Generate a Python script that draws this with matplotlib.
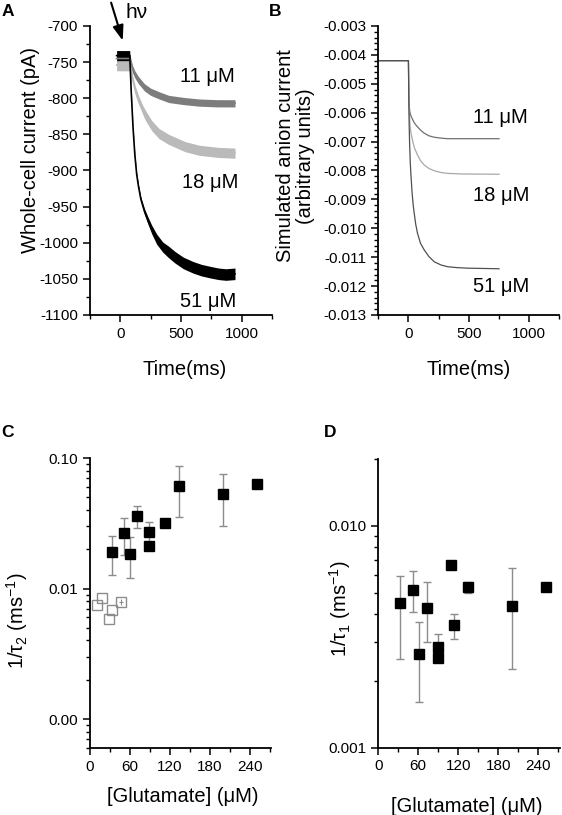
import numpy as np
import matplotlib
matplotlib.use('Agg')
import matplotlib.pyplot as plt
from matplotlib.ticker import (MultipleLocator, FixedLocator, LogLocator, NullFormatter,
                               FixedFormatter, FormatStrFormatter)

plt.rcParams['font.family'] = ['Liberation Sans', 'DejaVu Sans']
plt.rcParams['mathtext.fontset'] = 'custom'
plt.rcParams['mathtext.rm'] = 'Liberation Sans'
plt.rcParams['mathtext.it'] = 'Liberation Sans:italic'
plt.rcParams['axes.unicode_minus'] = False

# ---- panel A: recorded whole-cell currents (pA) ----
t_11 = [-30, 78, 90, 100, 120, 150, 200, 250, 320, 400, 530, 650, 800, 945]
i_11 = [-745, -745, -752, -759, -767, -775, -785, -791, -796, -801, -804, -806, -807, -807]
hw_11 = [6, 6, 5, 5, 5, 5, 5, 5, 5, 5, 5, 5, 5, 5]

t_18 = [-30, 78, 90, 100, 125, 150, 180, 205, 260, 320, 400, 534, 650, 808, 945]
i_18 = [-754, -754, -760, -772, -790, -802, -814, -823, -838, -849, -857, -867, -872, -875, -876]
hw_18 = [8, 8, 5, 5, 6, 6, 6, 7, 7, 7, 7, 7, 7, 7, 7]

t_51 = [-30, 78, 90, 105, 120, 135, 150, 170, 200, 230, 260, 300, 350, 400, 450, 520,
        600, 670, 750, 810, 870, 945]
i_51 = [-741, -741, -790, -840, -878, -905, -922, -940, -957, -970, -982, -995, -1006,
        -1013, -1020, -1028, -1034, -1038, -1041, -1043, -1044, -1043]
hw_51 = [7, 7, 1.5, 1.5, 1.5, 2, 2.5, 3, 4, 5, 6, 7, 7, 8, 8, 8, 8, 8, 8, 8, 8, 8]

# ---- panel B: simulated anion current ----
tB_11 = [-250, 0, 2, 4, 6, 10, 15, 22, 33, 50, 75, 100, 131, 170, 214, 270, 325, 500, 750]
sB_11 = [-0.0042, -0.0042, -0.0048, -0.0054, -0.0057, -0.00592, -0.00603, -0.00612,
         -0.00622, -0.00636, -0.00649, -0.00660, -0.00671, -0.00680, -0.00685, -0.00688,
         -0.0069, -0.0069, -0.0069]
tB_18 = [-250, 0, 2, 4, 6, 10, 14, 22, 33, 50, 75, 100, 131, 170, 214, 270, 325, 436, 750]
sB_18 = [-0.0042, -0.0042, -0.0049, -0.0055, -0.0059, -0.0062, -0.00648, -0.00672,
         -0.00694, -0.00722, -0.00746, -0.00766, -0.00781, -0.00793, -0.00801, -0.00807,
         -0.0081, -0.00812, -0.00813]
tB_51 = [-250, 0, 3, 6, 10, 15, 20, 30, 40, 48, 60, 75, 100, 131, 170, 214, 270, 325,
         400, 492, 750]
sB_51 = [-0.0042, -0.0042, -0.0055, -0.0064, -0.0071, -0.0077, -0.0081, -0.00875,
         -0.00922, -0.00948, -0.00985, -0.01017, -0.01052, -0.01075, -0.01098, -0.01116,
         -0.01127, -0.01133, -0.01136, -0.01138, -0.0114]

# ---- panel C: 1/tau2 vs glutamate ----
glu_c = [32.5, 51.5, 60, 71, 89, 89, 112, 134, 199, 251]
rate_c = [0.0191, 0.0265, 0.0185, 0.0361, 0.0272, 0.0210, 0.0316, 0.0607, 0.0530, 0.0628]
up_c = [0.0254, 0.0349, 0.0248, 0.0431, 0.0325, 0.0210, 0.0316, 0.0863, 0.0758, 0.0628]
lo_c = [0.0126, 0.0181, 0.0120, 0.0292, 0.0228, 0.0210, 0.0316, 0.0351, 0.0303, 0.0628]

glu_open = [11, 18.5, 28, 32.5, 47]
rate_open = [0.00743, 0.00841, 0.00584, 0.00684, 0.00789]
xerr_open = [0, 0, 0, 0, 3]
yerr_open = [0, 0, 0, 0, 0.0004]

# ---- panel D: 1/tau1 vs glutamate ----
glu_d = [32.5, 51.5, 60.5, 72.5, 89.5, 89.5, 113, 108.5, 135, 200, 251.5]
rate_d = [0.00450, 0.00513, 0.00264, 0.00428, 0.00285, 0.00254, 0.00357, 0.00667,
          0.00531, 0.00434, 0.00528]
up_d = [0.00596, 0.00625, 0.00367, 0.00557, 0.00325, 0.00254, 0.00402, 0.00667,
        0.00560, 0.00643, 0.00528]
lo_d = [0.00250, 0.00407, 0.00161, 0.00300, 0.00262, 0.00254, 0.00310, 0.00667,
        0.00500, 0.00226, 0.00528]

LABEL_FS = 14.5
TICK_FS = 11
ERR_COLOR = '#8c8c8c'


def style_axes(ax):
    for side in ('top', 'right'):
        ax.spines[side].set_visible(False)
    for side in ('left', 'bottom'):
        ax.spines[side].set_linewidth(1.3)
    ax.tick_params(which='major', direction='out', length=5, width=1.1, labelsize=TICK_FS)
    ax.tick_params(which='minor', direction='out', length=3, width=1.0)


fig = plt.figure(figsize=(5.62, 8.15), dpi=100)
axA = fig.add_axes([0.160, 0.6135, 0.324, 0.3546])
axB = fig.add_axes([0.673, 0.6135, 0.3224, 0.3546])
axC = fig.add_axes([0.160, 0.0822, 0.3226, 0.3558])
axD = fig.add_axes([0.673, 0.0826, 0.3226, 0.3542])

# A
for t, i, hw, col in ((t_11, i_11, hw_11, '#7d7d7d'),
                      (t_18, i_18, hw_18, '#bababa'),
                      (t_51, i_51, hw_51, 'black')):
    t = np.array(t); i = np.array(i); hw = np.array(hw)
    axA.fill_between(t, i - hw, i + hw, color=col, lw=0)
    axA.plot(t, i, color=col, lw=1.2)
axA.set_xlim(-250, 1250)
axA.set_ylim(-1100, -700)
axA.xaxis.set_major_locator(FixedLocator([0, 500, 1000]))
axA.xaxis.set_minor_locator(MultipleLocator(250))
axA.yaxis.set_major_locator(MultipleLocator(50))
axA.yaxis.set_minor_locator(MultipleLocator(25))
style_axes(axA)
axA.set_xlabel('Time(ms)', fontsize=LABEL_FS)
axA.set_ylabel('Whole-cell current (pA)', fontsize=LABEL_FS)
axA.xaxis.set_label_coords(0.52, -0.155)
axA.yaxis.set_label_coords(-0.275, 0.57)
axA.text(716, -770, '11 μM', fontsize=LABEL_FS, ha='center', va='center')
axA.text(740, -916, '18 μM', fontsize=LABEL_FS, ha='center', va='center')
axA.text(725, -1082, '51 μM', fontsize=LABEL_FS, ha='center', va='center')
axA.annotate('', xy=(27, -724), xytext=(-82, -664), annotation_clip=False,
             arrowprops=dict(arrowstyle='-|>,head_length=0.9,head_width=0.32',
                             color='black', lw=1.5))
axA.text(137, -682, 'hν', fontsize=15, ha='center', va='center', clip_on=False)

# B
for t, s, col in ((tB_11, sB_11, '#707070'),
                  (tB_18, sB_18, '#a8a8a8'),
                  (tB_51, sB_51, '#505050')):
    axB.plot(t, s, color=col, lw=0.9)
axB.set_xlim(-250, 1250)
axB.set_ylim(-0.013, -0.003)
axB.xaxis.set_major_locator(FixedLocator([0, 500, 1000]))
axB.xaxis.set_minor_locator(MultipleLocator(250))
axB.yaxis.set_major_locator(MultipleLocator(0.001))
axB.yaxis.set_minor_locator(MultipleLocator(0.0002))
axB.yaxis.set_major_formatter(FormatStrFormatter('%.3f'))
style_axes(axB)
axB.set_xlabel('Time(ms)', fontsize=LABEL_FS)
axB.set_ylabel('Simulated anion current\n(arbitrary units)', fontsize=LABEL_FS,
               linespacing=1.05)
axB.xaxis.set_label_coords(0.50, -0.155)
axB.yaxis.set_label_coords(-0.35, 0.55)
axB.text(760, -0.00618, '11 μM', fontsize=LABEL_FS, ha='center', va='center')
axB.text(764, -0.00885, '18 μM', fontsize=LABEL_FS, ha='center', va='center')
axB.text(764, -0.0120, '51 μM', fontsize=LABEL_FS, ha='center', va='center')

# C
rate_c_arr = np.array(rate_c)
yerr_c = [rate_c_arr - np.array(lo_c), np.array(up_c) - rate_c_arr]
axC.errorbar(glu_c, rate_c, yerr=yerr_c, fmt='none', ecolor=ERR_COLOR, elinewidth=1,
             capsize=3, capthick=1, zorder=2)
axC.plot(glu_c, rate_c, 's', color='black', ms=6.5, zorder=3)
axC.errorbar(glu_open, rate_open, xerr=xerr_open, yerr=yerr_open, fmt='none',
             ecolor=ERR_COLOR, elinewidth=0.8, capsize=0, zorder=2)
axC.plot(glu_open, rate_open, 's', mfc='none', mec='#8c8c8c', mew=1.0, ms=6.5, zorder=3)
axC.set_yscale('log')
axC.set_xlim(0, 272)
axC.set_ylim(0.0006, 0.1)
axC.yaxis.set_major_locator(FixedLocator([0.001, 0.01, 0.1]))
axC.yaxis.set_major_formatter(FixedFormatter(['0.00', '0.01', '0.10']))
axC.yaxis.set_minor_locator(LogLocator(base=10, subs=np.arange(2, 10)))
axC.yaxis.set_minor_formatter(NullFormatter())
axC.xaxis.set_major_locator(MultipleLocator(60))
axC.xaxis.set_minor_locator(MultipleLocator(30))
style_axes(axC)
axC.set_xlabel('[Glutamate] (μM)', fontsize=LABEL_FS)
axC.set_ylabel('1/τ$_2$ (ms$^{-1}$)', fontsize=LABEL_FS)
axC.xaxis.set_label_coords(0.51, -0.135)
axC.yaxis.set_label_coords(-0.33, 0.44)

# D
rate_d_arr = np.array(rate_d)
yerr_d = [rate_d_arr - np.array(lo_d), np.array(up_d) - rate_d_arr]
axD.errorbar(glu_d, rate_d, yerr=yerr_d, fmt='none', ecolor=ERR_COLOR, elinewidth=1,
             capsize=3, capthick=1, zorder=2)
axD.plot(glu_d, rate_d, 's', color='black', ms=6.5, zorder=3)
axD.set_yscale('log')
axD.set_xlim(0, 272)
axD.set_ylim(0.001, 0.02)
axD.yaxis.set_major_locator(FixedLocator([0.001, 0.01]))
axD.yaxis.set_major_formatter(FixedFormatter(['0.001', '0.010']))
axD.yaxis.set_minor_locator(LogLocator(base=10, subs=np.arange(2, 10)))
axD.yaxis.set_minor_formatter(NullFormatter())
axD.xaxis.set_major_locator(MultipleLocator(60))
axD.xaxis.set_minor_locator(MultipleLocator(30))
style_axes(axD)
axD.set_xlabel('[Glutamate] (μM)', fontsize=LABEL_FS)
axD.set_ylabel('1/τ$_1$ (ms$^{-1}$)', fontsize=LABEL_FS)
axD.xaxis.set_label_coords(0.49, -0.17)
axD.yaxis.set_label_coords(-0.14, 0.48)

# panel letters
for x, y, s in ((8, 12, 'A'), (275, 12, 'B'), (8, 432, 'C'), (330, 432, 'D')):
    fig.text(x / 562, 1 - y / 815, s, fontsize=12.5, fontweight='bold',
             ha='center', va='center')

fig.savefig('out.png', dpi=100)
